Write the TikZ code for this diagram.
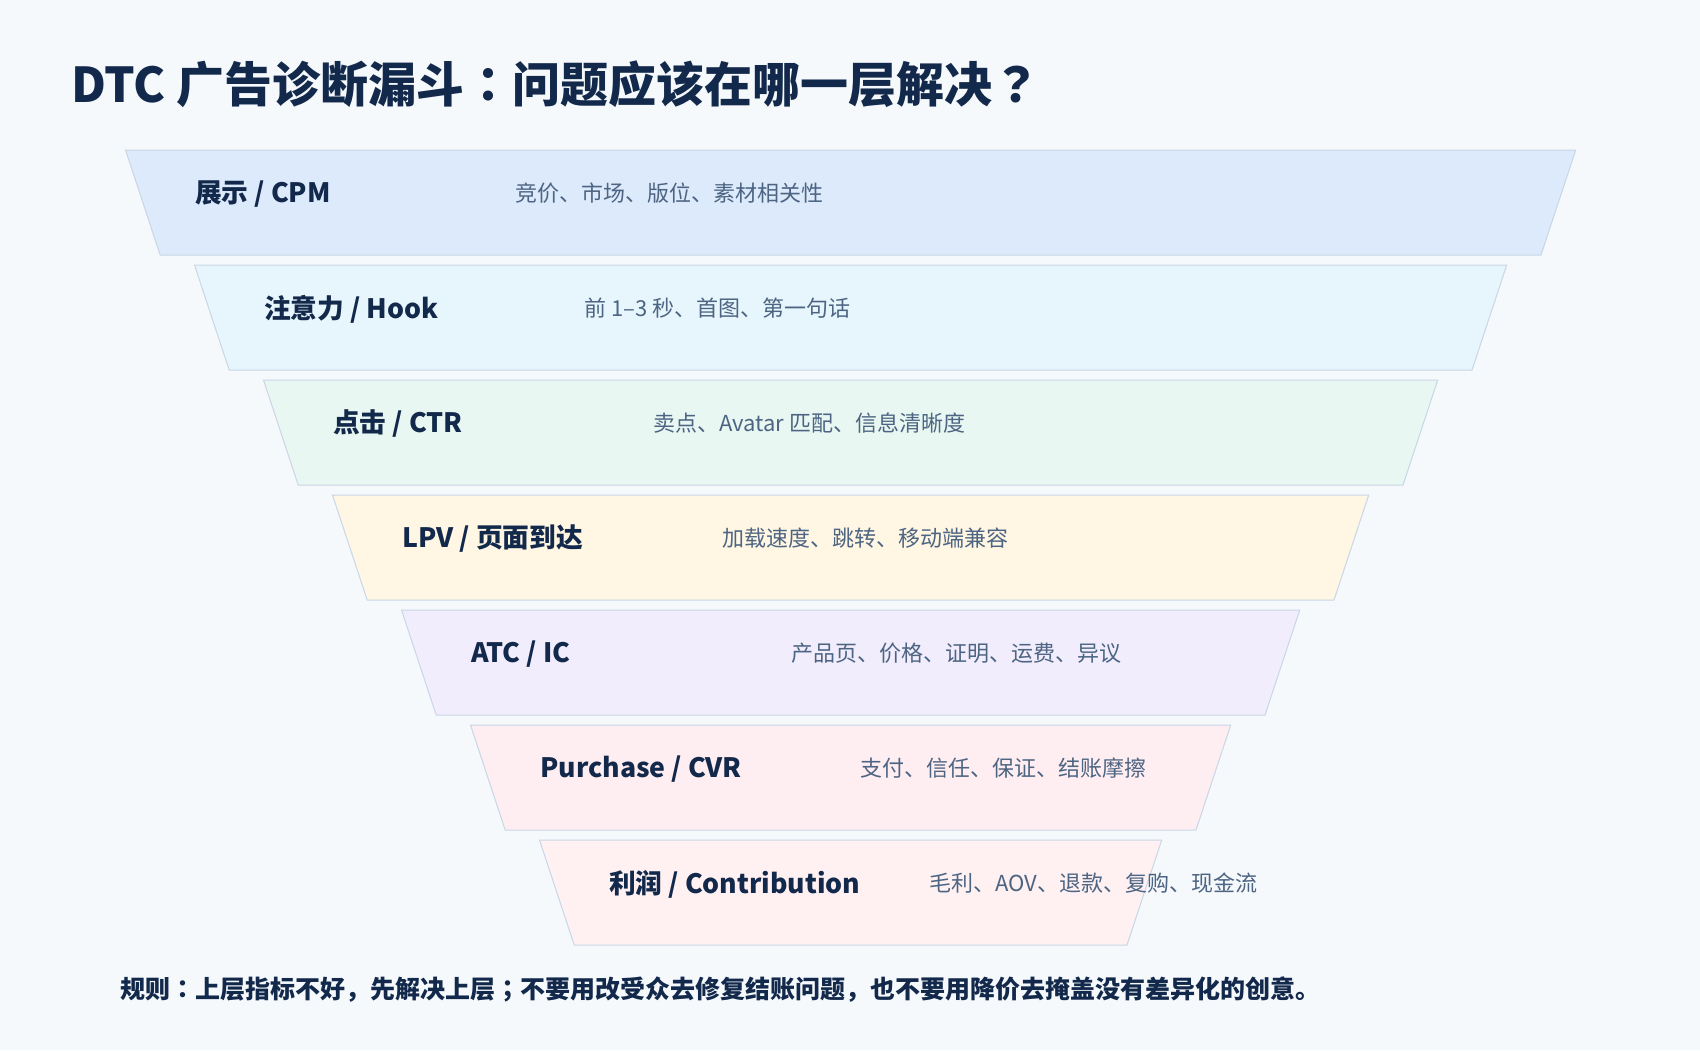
\documentclass[tikz,border=0pt]{standalone}
\usepackage{fontspec}
\setmainfont{Noto Sans CJK SC}
\newfontfamily\jpf{Noto Sans CJK JP}
\definecolor{bgc}{HTML}{F5F9FC}
\definecolor{ink}{HTML}{13294B}
\definecolor{descc}{HTML}{4D6582}
\definecolor{edgec}{HTML}{C9D6E6}
\definecolor{c1}{HTML}{DCEAFC}
\definecolor{c2}{HTML}{E6F6FC}
\definecolor{c3}{HTML}{E8F7F2}
\definecolor{c4}{HTML}{FFF6E4}
\definecolor{c5}{HTML}{F1EDFD}
\definecolor{c6}{HTML}{FFEEF1}
\definecolor{c7}{HTML}{FFF1F2}
\tikzset{
  layerbox/.style={draw=edgec, line width=1pt, line join=miter},
  lab/.style={font=\fontsize{26.7}{32}\selectfont\bfseries, text=ink, anchor=west, inner sep=0pt},
  desc/.style={font=\fontsize{22}{26}\selectfont, text=descc, anchor=west, inner sep=0pt},
}
\newcommand{\funnellayer}[5]{%
  \pgfmathsetmacro\ty{150+115*#1}%
  \pgfmathsetmacro\tl{125.5+69*#1}%
  \pgfmathsetmacro\tr{1575.7-69*#1}%
  \pgfmathsetmacro\bl{160.2+69*#1}%
  \pgfmathsetmacro\br{1541-69*#1}%
  \pgfmathsetmacro\by{\ty+105}%
  \pgfmathsetmacro\ly{\ty+44}%
  \pgfmathsetmacro\dy{\ty+43}%
  \pgfmathsetmacro\lx{195+69*#1}%
  \pgfmathsetmacro\dx{515+69*#1}%
  \path[layerbox, fill=#2] (\tl,\ty) -- (\tr,\ty) -- (\br,\by) -- (\bl,\by) -- cycle;
  \node[lab] (#3-lab) at (\lx,\ly) {#4};
  \node[desc] (#3-desc) at (\dx,\dy) {#5};
}
\begin{document}
\begin{tikzpicture}[x=1pt,y=-1pt]
\fill[bgc] (0,0) rectangle (1700,1050);
\useasboundingbox (0,0) rectangle (1700,1050);
\node[font=\fontsize{48}{56}\selectfont\bfseries, text=ink, anchor=west, inner sep=0pt] (title) at (71,84) {DTC 广告诊断漏斗{\jpf ：}问题应该在哪一层解决{\jpf ？}};
\funnellayer{0}{c1}{cpm}{展示 / CPM}{竞价、市场、版位、素材相关性}
\funnellayer{1}{c2}{hook}{注意力 / Hook}{前 1–3 秒、首图、第一句话}
\funnellayer{2}{c3}{ctr}{点击 / CTR}{卖点、Avatar 匹配、信息清晰度}
\funnellayer{3}{c4}{lpv}{LPV / 页面到达}{加载速度、跳转、移动端兼容}
\funnellayer{4}{c5}{atc}{ATC / IC}{产品页、价格、证明、运费、异议}
\funnellayer{5}{c6}{cvr}{Purchase / CVR}{支付、信任、保证、结账摩擦}
\funnellayer{6}{c7}{profit}{利润 / Contribution}{毛利、AOV、退款、复购、现金流}
\node[font=\fontsize{25}{29}\selectfont\bfseries, text=ink, anchor=west, inner sep=0pt] (rule) at (120,990) {规则{\jpf ：}上层指标不好，先解决上层{\jpf ；}不要用改受众去修复结账问题，也不要用降价去掩盖没有差异化的创意。};
\end{tikzpicture}
\end{document}
